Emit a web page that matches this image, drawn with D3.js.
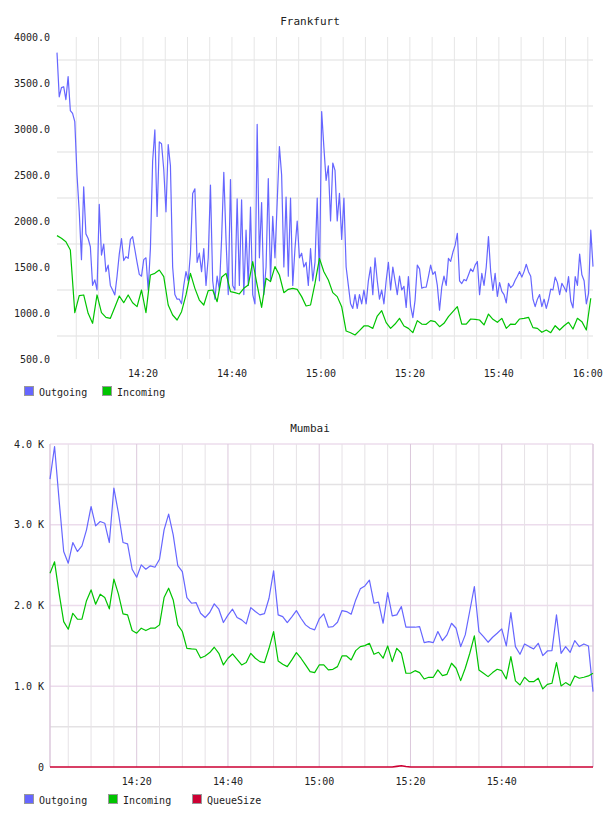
<!DOCTYPE html>
<html>
<head>
<meta charset="utf-8">
<script src="https://cdn.jsdelivr.net/npm/d3@7"></script>
<style>
  body { margin: 0; background: #fff; }
  svg text { font-family: 'DejaVu Sans Mono', monospace; font-size: 10px; fill: #222; }
</style>
</head>
<body>
<svg id="chart" width="608" height="816"></svg>
<script>
// Frankfurt: outgoing sampled every 30 s, incoming every minute, both from 14:00:40.
var frankfurtOutgoing = [
  3830, 3350, 3450, 3460, 3320, 3570, 3200, 3170, 3080, 2500,
  2100, 1580, 2370, 1860, 1810, 1720, 1300, 1360, 1250, 2180,
  1630, 1750, 1450, 1520, 1300, 1250, 1196, 1400, 1640, 1810,
  1570, 1612, 1594, 1800, 1830, 1690, 1550, 1420, 1400, 1580,
  1600, 1250, 1700, 2650, 2990, 2050, 2860, 2840, 2560, 2100,
  2830, 2600, 1500, 1200, 1150, 1150, 1100, 1300, 1450, 1350,
  1650, 2300, 2350, 1550, 1650, 1450, 1700, 1300, 1600, 2390,
  1350, 1150, 1400, 1250, 1800, 2530, 1800, 1200, 2450, 1300,
  1250, 2240, 1300, 2230, 1200, 1900, 1300, 2150, 1200, 1100,
  3050, 1600, 2200, 1200, 1500, 2460, 1350, 2050, 1600, 2200,
  2810, 2500, 1500, 2260, 1400, 2250, 1300, 1700, 2000, 1600,
  1650, 1500, 1550, 1300, 1700, 1350, 1550, 2250, 1350, 3190,
  2800, 2440, 2600, 2000, 2630, 2550, 2000, 2300, 1800, 2250,
  1500, 1300, 1100, 1050, 1200, 1050, 1200, 1100, 1250, 1100,
  1350, 1500, 1200, 1600, 1350, 1150, 1250, 1100, 1350, 1550,
  1250, 1500, 1350, 1200, 1400, 1250, 1290, 1060, 1395, 1075,
  950, 1140, 1520, 1480, 1270, 1280, 1280, 1395, 1520, 1420,
  1450, 1300, 1030, 1280, 1400, 1300, 1594, 1560, 1660, 1735,
  1866, 1350, 1320, 1365, 1350, 1413, 1480, 1450, 1520, 1560,
  1200, 1430, 1300, 1500, 1830, 1450, 1245, 1430, 1180, 1330,
  1235, 1200, 1110, 1322, 1275, 1300, 1355, 1400, 1450, 1390,
  1450, 1530, 1449, 1400, 1150, 1069, 1150, 1200, 1070, 1150,
  1050, 1141, 1260, 1250, 1390, 1330, 1200, 1322, 1280, 1230,
  1395, 1130, 1055, 1395, 1300, 1640, 1415, 1350, 1100, 1214,
  1900, 1504
];
var frankfurtIncoming = [
  1841, 1812, 1775, 1685, 1004, 1188, 1196, 997, 888, 1196,
  1004, 953, 942, 1062, 1185, 1112, 1196, 1112, 1069, 1250,
  1004, 1413, 1431, 1467, 1395, 1087, 978, 924, 1014, 1196,
  1431, 1268, 1141, 1087, 1243, 1250, 1123, 1388, 1431, 1232,
  1221, 1207, 1268, 1304, 1558, 1304, 1062, 1377, 1341, 1504,
  1413, 1221, 1257, 1268, 1257, 1178, 1076, 1087, 1322, 1594,
  1449, 1359, 1221, 1178, 1069, 804, 786, 761, 808, 859,
  859, 833, 967, 1025, 895, 833, 880, 942, 859, 833,
  786, 917, 880, 877, 917, 906, 851, 888, 960, 1014,
  1069, 880, 880, 935, 931, 924, 870, 989, 931, 899,
  942, 833, 880, 877, 935, 942, 953, 841, 833, 790,
  815, 786, 862, 815, 862, 899, 826, 942, 906, 815,
  1160
];

// Mumbai: one sample a minute from 14:01 to 16:00.
var mumbaiOutgoing = [
  3565, 3969, 3300, 2668, 2524, 2780, 2668, 2738, 2937, 3226,
  2986, 3040, 3019, 2780, 3453, 3143, 2780, 2763, 2449, 2350,
  2503, 2449, 2491, 2474, 2573, 2937, 3131, 2875, 2495, 2420,
  2098, 2028, 2036, 1904, 1851, 1913, 2020, 1954, 1789, 1880,
  1954, 1851, 1822, 1772, 1974, 1925, 1884, 1900, 2090, 2429,
  1884, 1863, 1789, 1860, 1937, 1842, 1760, 1718, 1698, 1834,
  1896, 1731, 1739, 1793, 1937, 1925, 1892, 2069, 2206, 2243,
  2313, 2028, 2041, 1780, 2160, 1871, 1884, 1986, 1731, 1731,
  1731, 1739, 1540, 1553, 1540, 1677, 1565, 1636, 1780, 1718,
  1491, 1636, 1935, 2234, 1677, 1615, 1545, 1607, 1656, 1710,
  1499, 1912, 1491, 1396, 1524, 1491, 1462, 1532, 1380, 1437,
  1441, 1883, 1408, 1491, 1421, 1565, 1491, 1524, 1499, 933
];
var mumbaiIncoming = [
  2400, 2541, 2150, 1801, 1706, 1904, 1830, 1830, 2060, 2193,
  2016, 2140, 2098, 1958, 2326, 2140, 1896, 1883, 1690, 1657,
  1719, 1690, 1719, 1719, 1760, 2098, 2214, 2069, 1760, 1678,
  1470, 1462, 1458, 1350, 1375, 1417, 1483, 1408, 1264, 1347,
  1400, 1334, 1264, 1293, 1408, 1347, 1305, 1293, 1470, 1677,
  1313, 1272, 1243, 1326, 1417, 1347, 1264, 1181, 1169, 1264,
  1264, 1202, 1210, 1243, 1375, 1375, 1326, 1441, 1491, 1503,
  1532, 1396, 1421, 1347, 1499, 1305, 1470, 1409, 1161, 1161,
  1193, 1169, 1090, 1111, 1111, 1202, 1132, 1148, 1285, 1223,
  1070, 1223, 1409, 1623, 1202, 1161, 1119, 1169, 1210, 1193,
  1090, 1367, 1066, 1016, 1111, 1057, 1057, 1099, 967, 1024,
  1037, 1293, 1004, 1045, 1008, 1128, 1099, 1111, 1128, 1161
];
var mumbaiQueue = [
  0, 0, 0, 0, 0, 0, 0, 0, 0, 0,
  0, 0, 0, 0, 0, 0, 0, 0, 0, 0,
  0, 0, 0, 0, 0, 0, 0, 0, 0, 0,
  0, 0, 0, 0, 0, 0, 0, 0, 0, 0,
  0, 0, 0, 0, 0, 0, 0, 0, 0, 0,
  0, 0, 0, 0, 0, 0, 0, 0, 0, 0,
  0, 0, 0, 0, 0, 0, 0, 0, 0, 0,
  0, 0, 0, 0, 0, 0, 8, 15, 6, 0,
  0, 0, 0, 0, 0, 0, 0, 0, 0, 0,
  0, 0, 0, 0, 0, 0, 0, 0, 0, 0,
  0, 0, 0, 0, 0, 0, 0, 0, 0, 0,
  0, 0, 0, 0, 0, 0, 0, 0, 0, 0
];

var frankfurtTicks = [500, 1000, 1500, 2000, 2500, 3000, 3500, 4000];
var mumbaiTicks = [0, 1000, 2000, 3000, 4000];
var frankfurtTimeLabels = ['14:20', '14:40', '15:00', '15:20', '15:40', '16:00'];
var mumbaiTimeLabels = ['14:20', '14:40', '15:00', '15:20', '15:40'];

var colors = { Outgoing: '#6666ff', Incoming: '#00c400', QueueSize: '#cc0033' };

var parseTime = d3.timeParse('%H:%M:%S');

/**
 * Builds the timestamp list for a series.
 */
var timesFor = function(start, stepSeconds, count) {
    var t0 = parseTime(start);
    return d3.range(count).map(function(i) { return d3.timeSecond.offset(t0, i * stepSeconds); });
};

var svg = d3.select('#chart');

/**
 * Draws one of the two panels.
 */
var drawPanel = function(cfg) {
    var g = svg.append('g');
    var x = d3.scaleTime().domain(cfg.xDomain.map(parseTime)).range([cfg.left, cfg.right]);
    var y = d3.scaleLinear().domain(cfg.yDomain).range([cfg.bottom, cfg.top]);

    // Title.
    g.append('text')
        .attr('x', 310).attr('y', cfg.top - 12)
        .style('text-anchor', 'middle')
        .style('font-size', '11px')
        .text(cfg.title);

    // Horizontal grid lines.
    g.selectAll('.hgrid').data(cfg.hGrid).enter().append('line')
        .attr('x1', cfg.left).attr('x2', cfg.right)
        .attr('y1', function(d) { return y(d.v); }).attr('y2', function(d) { return y(d.v); })
        .style('stroke', function(d) { return d.major ? cfg.majorColor : cfg.minorColor; })
        .style('stroke-width', cfg.hWidth);

    // Vertical grid lines every five minutes.
    var gridTimes = d3.timeMinute.every(5).range(x.domain()[0], x.domain()[1]);
    g.selectAll('.vgrid').data(gridTimes).enter().append('line')
        .attr('x1', function(d) { return x(d); }).attr('x2', function(d) { return x(d); })
        .attr('y1', cfg.top).attr('y2', cfg.bottom)
        .style('stroke', function(d) { return (cfg.majorV && d.getMinutes() % 20 === 0) ? cfg.majorVColor : cfg.minorVColor; })
        .style('stroke-width', 1);

    if (cfg.frame) {
        g.append('line').attr('x1', cfg.left).attr('x2', cfg.left).attr('y1', cfg.top).attr('y2', cfg.bottom)
            .style('stroke', cfg.majorVColor).style('stroke-width', 1.5);
        g.append('line').attr('x1', cfg.right).attr('x2', cfg.right).attr('y1', cfg.top).attr('y2', cfg.bottom)
            .style('stroke', cfg.majorVColor).style('stroke-width', 1.5);
    }

    // Y tick labels.
    g.selectAll('.ylab').data(cfg.yTicks).enter().append('text')
        .attr('x', cfg.yLabelX).attr('y', function(d) { return y(d); }).attr('dy', '0.35em')
        .style('text-anchor', 'end')
        .text(cfg.yFormat);

    // X tick labels every twenty minutes.
    g.selectAll('.xlab').data(cfg.timeLabels).enter().append('text')
        .attr('x', function(d) { return x(parseTime(d + ':00')); })
        .attr('y', cfg.bottom + 14).attr('dy', '0.35em')
        .style('text-anchor', 'middle')
        .text(function(d) { return d; });

    // Series lines.
    var line = d3.line()
        .x(function(d) { return x(d[0]); })
        .y(function(d) { return y(d[1]); });
    cfg.series.forEach(function(s) {
        var pts = d3.zip(s.times, s.values);
        g.append('path')
            .datum(pts)
            .attr('d', line)
            .style('fill', 'none')
            .style('stroke', colors[s.name])
            .style('stroke-width', s.width || 1.2)
            .style('stroke-linejoin', 'round');
    });

    // Legend.
    var legend = g.selectAll('.legend').data(cfg.series).enter().append('g')
        .attr('transform', function(d, i) { return 'translate(' + cfg.legendX[i] + ',' + cfg.legendY + ')'; });
    legend.append('rect')
        .attr('x', 0.5).attr('y', -5.5).attr('width', 9).attr('height', 9)
        .style('fill', function(d) { return colors[d.name]; })
        .style('stroke', '#999').style('stroke-width', 1);
    legend.append('text')
        .attr('x', 15).attr('y', 0).attr('dy', '0.35em')
        .text(function(d) { return d.name; });
};

drawPanel({
    title: 'Frankfurt',
    left: 57, right: 593, top: 37, bottom: 359,
    xDomain: ['14:00:40', '16:01:10'],
    yDomain: [500, 4000],
    yTicks: frankfurtTicks,
    yFormat: d3.format('.1f'),
    yLabelX: 50,
    timeLabels: frankfurtTimeLabels,
    hGrid: [750, 1250, 1750, 2250, 2750, 3250, 3750].map(function(v) { return { v: v, major: false }; }),
    hWidth: 2, minorColor: '#efefef', majorColor: '#efefef',
    minorVColor: '#e6e6e6', majorVColor: '#e6e6e6', majorV: false, frame: false,
    legendX: [24, 102], legendY: 392,
    series: [
        { name: 'Outgoing', times: timesFor('14:00:40', 30, frankfurtOutgoing.length), values: frankfurtOutgoing },
        { name: 'Incoming', times: timesFor('14:00:40', 60, frankfurtIncoming.length), values: frankfurtIncoming }
    ]
});

drawPanel({
    title: 'Mumbai',
    left: 50, right: 593, top: 444, bottom: 767,
    xDomain: ['14:01:00', '16:00:00'],
    yDomain: [0, 4000],
    yTicks: mumbaiTicks,
    yFormat: function(d) { return d === 0 ? '0' : (d / 1000).toFixed(1) + ' K'; },
    yLabelX: 44,
    timeLabels: mumbaiTimeLabels,
    hGrid: [500, 1000, 1500, 2000, 2500, 3000, 3500, 4000].map(function(v) { return { v: v, major: v % 1000 === 0 }; }),
    hWidth: 1.5, minorColor: '#e4e2e4', majorColor: '#ecdcec',
    minorVColor: '#e6e2e6', majorVColor: '#dcc8dc', majorV: true, frame: true,
    legendX: [24, 108, 192], legendY: 800,
    series: [
        { name: 'Outgoing', times: timesFor('14:01:00', 60, mumbaiOutgoing.length), values: mumbaiOutgoing },
        { name: 'Incoming', times: timesFor('14:01:00', 60, mumbaiIncoming.length), values: mumbaiIncoming },
        { name: 'QueueSize', times: timesFor('14:01:00', 60, mumbaiQueue.length), values: mumbaiQueue, width: 1.6 }
    ]
});
</script>
</body>
</html>
